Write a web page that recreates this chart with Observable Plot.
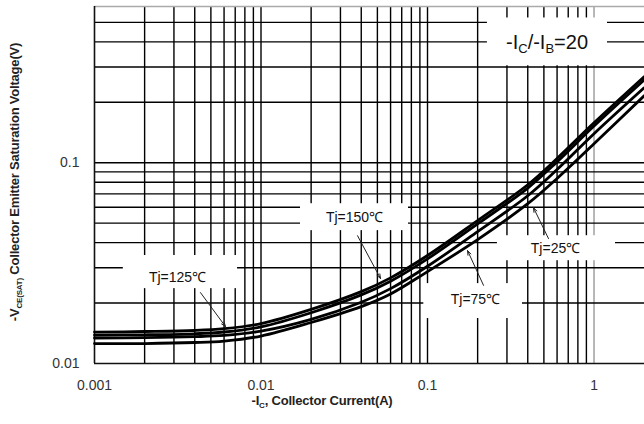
<!DOCTYPE html>
<html><head><meta charset="utf-8">
<script src="https://cdn.jsdelivr.net/npm/d3@7"></script>
<script src="https://cdn.jsdelivr.net/npm/@observablehq/plot@0.6"></script>
<style>body{margin:0;background:#fff}#chart svg{font-family:"Liberation Sans",Arial,sans-serif;}</style>
</head><body><div id="chart"></div>
<script>
// Collector current (A)
const current = [0.001,0.002,0.004,0.006,0.01,0.02,0.04,0.06,0.1,0.2,0.4,0.6,1,2];
// -VCE(sat) (V) per junction temperature
const vTj150 = [0.01434,0.01443,0.0146,0.0149,0.0158,0.0186,0.0228,0.0267,0.0345,0.0515,0.0777,0.105,0.158,0.268];
const vTj125 = [0.01386,0.0139,0.01406,0.01435,0.01522,0.0179,0.02196,0.0257,0.0332,0.0496,0.0748,0.101,0.1522,0.258];
const vTj75  = [0.0134,0.01345,0.0136,0.0138,0.0145,0.0166,0.0202,0.0236,0.0305,0.0454,0.0685,0.0925,0.1394,0.236];
const vTj25  = [0.01257,0.01257,0.01272,0.01294,0.0137,0.016,0.0192,0.0222,0.0287,0.0414,0.0625,0.0835,0.1243,0.2154];
const seriesNames = ["150","125","75","25"];
const seriesValues = [vTj150, vTj125, vTj75, vTj25];

// ticks & grid
const xTicks = [0.001,0.01,0.1,1];
const yTicks = [0.01,0.1];
const xGrid = [0.002,0.003,0.004,0.005,0.006,0.007,0.008,0.009,0.01,0.02,0.03,0.04,0.05,0.06,0.07,0.08,0.09,0.1,0.2,0.3,0.4,0.5,0.6,0.7,0.8,0.9];
const xGridLight = [1];
const yGrid = [0.02,0.03,0.04,0.05,0.06,0.07,0.08,0.09,0.1,0.2,0.3,0.4,0.5];

// annotations (data coordinates)
const labelText = ["Tj=125℃","Tj=150℃","Tj=75℃","Tj=25℃"];
const labelX = [0.00315,0.03645,0.194,0.587];
const labelY = [0.0268,0.0533,0.0208,0.0373];
const boxX1 = [0.00149,0.01727,0.095,0.263];
const boxX2 = [0.00723,0.0769,0.372,1.346];
const boxY1 = [0.0236,0.0459,0.01675,0.0325];
const boxY2 = [0.0345,0.0625,0.025,0.0433];
const arrowX1 = [0.00433,0.038,0.217,0.533];
const arrowY1 = [0.02255,0.0433,0.0245,0.0419];
const arrowX2 = [0.00612,0.0522,0.174,0.433];
const arrowY2 = [0.01528,0.0265,0.0365,0.0597];
const ratioBox = {x1:0.229, x2:1.205, y1:0.304, y2:0.526};
const ratioPos = {x:0.526, y:0.395};

const curveData = seriesNames.flatMap((n, i) => current.map((c, j) => ({I: c, V: seriesValues[i][j], Tj: n})));
const labels = labelText.map((t, i) => ({t, x: labelX[i], y: labelY[i], bx1: boxX1[i], bx2: boxX2[i], by1: boxY1[i], by2: boxY2[i], ax1: arrowX1[i], ay1: arrowY1[i], ax2: arrowX2[i], ay2: arrowY2[i]}));

const chart = Plot.plot({
  width: 644, height: 424,
  marginLeft: 94, marginRight: 0, marginTop: 6, marginBottom: 61,
  style: {fontSize: "14px", fontFamily: "Liberation Sans, Arial, sans-serif", color: "#333", background: "#fff"},
  x: {type: "log", domain: [0.001, 2.01], ticks: xTicks, tickFormat: d => String(d), tickSize: 0, tickPadding: 17, label: null},
  y: {type: "log", domain: [0.01, 0.6], ticks: yTicks, tickFormat: d => String(d), tickSize: 0, tickPadding: 15, label: null},
  marks: [
    Plot.ruleX(xGrid, {stroke: "#000", strokeWidth: 1.4}),
    Plot.ruleX(xGridLight, {stroke: "#999", strokeWidth: 1.4}),
    Plot.ruleY(yGrid, {stroke: "#000", strokeWidth: 1.4}),
    Plot.ruleY([0.6], {stroke: "#aaa", strokeWidth: 1.4}),
    Plot.ruleX([0.001], {stroke: "#111", strokeWidth: 1.6}),
    Plot.ruleY([0.01], {stroke: "#111", strokeWidth: 1.6}),
    Plot.rect(labels, {x1: "bx1", x2: "bx2", y1: "by1", y2: "by2", fill: "#fff"}),
    Plot.rect([ratioBox], {x1: "x1", x2: "x2", y1: "y1", y2: "y2", fill: "#fff"}),
    Plot.line(curveData, {x: "I", y: "V", z: "Tj", stroke: "#000", strokeWidth: 2.8, curve: "catmull-rom"}),
    Plot.arrow(labels, {x1: "ax1", y1: "ay1", x2: "ax2", y2: "ay2", stroke: "#222", strokeWidth: 1, headLength: 7, headAngle: 40}),
    Plot.text(labels, {x: "x", y: "y", text: "t", fill: "#111", fontSize: 14, fontFamily: "Liberation Sans, Arial, sans-serif"})
  ]
});
document.getElementById("chart").appendChild(chart);

const sx = chart.scale("x"), sy = chart.scale("y");
const fx = sx && sx.apply ? v => sx.apply(v) : d3.scaleLog([0.001, 2.01], [94, 644]);
const fy = sy && sy.apply ? v => sy.apply(v) : d3.scaleLog([0.01, 0.6], [363, 6]);
const svg = d3.select(chart);

// ratio annotation
const rt = svg.append("text")
  .attr("x", fx(ratioPos.x)).attr("y", fy(ratioPos.y) + 7)
  .attr("text-anchor", "middle").attr("font-size", 20).attr("fill", "#111")
  .attr("font-family", "Liberation Sans, Arial, sans-serif");
rt.append("tspan").text("-I");
rt.append("tspan").attr("font-size", 13).attr("dy", 4).text("C");
rt.append("tspan").attr("dy", -4).text("/-I");
rt.append("tspan").attr("font-size", 13).attr("dy", 4).text("B");
rt.append("tspan").attr("dy", -4).text("=20");

// axis titles
const xt = svg.append("text").attr("x", 322).attr("y", 405)
  .attr("text-anchor", "middle").attr("font-size", 13).attr("font-weight", "bold").attr("fill", "#222")
  .attr("font-family", "Liberation Sans, Arial, sans-serif").attr("letter-spacing", "-0.2");
xt.append("tspan").text("-I");
xt.append("tspan").attr("font-size", 8).attr("dy", 3).text("C");
xt.append("tspan").attr("dy", -3).text(", Collector Current(A)");

const yt = svg.append("text").attr("transform", "translate(19,182) rotate(-90)")
  .attr("text-anchor", "middle").attr("font-size", 13).attr("font-weight", "bold").attr("fill", "#222")
  .attr("font-family", "Liberation Sans, Arial, sans-serif").attr("letter-spacing", "-0.2");
yt.append("tspan").text("-V");
yt.append("tspan").attr("font-size", 8).attr("dy", 3).text("CE(SAT)");
yt.append("tspan").attr("dy", -3).text(" Collector Emitter Saturation Voltage(V)");
</script>
</body></html>
